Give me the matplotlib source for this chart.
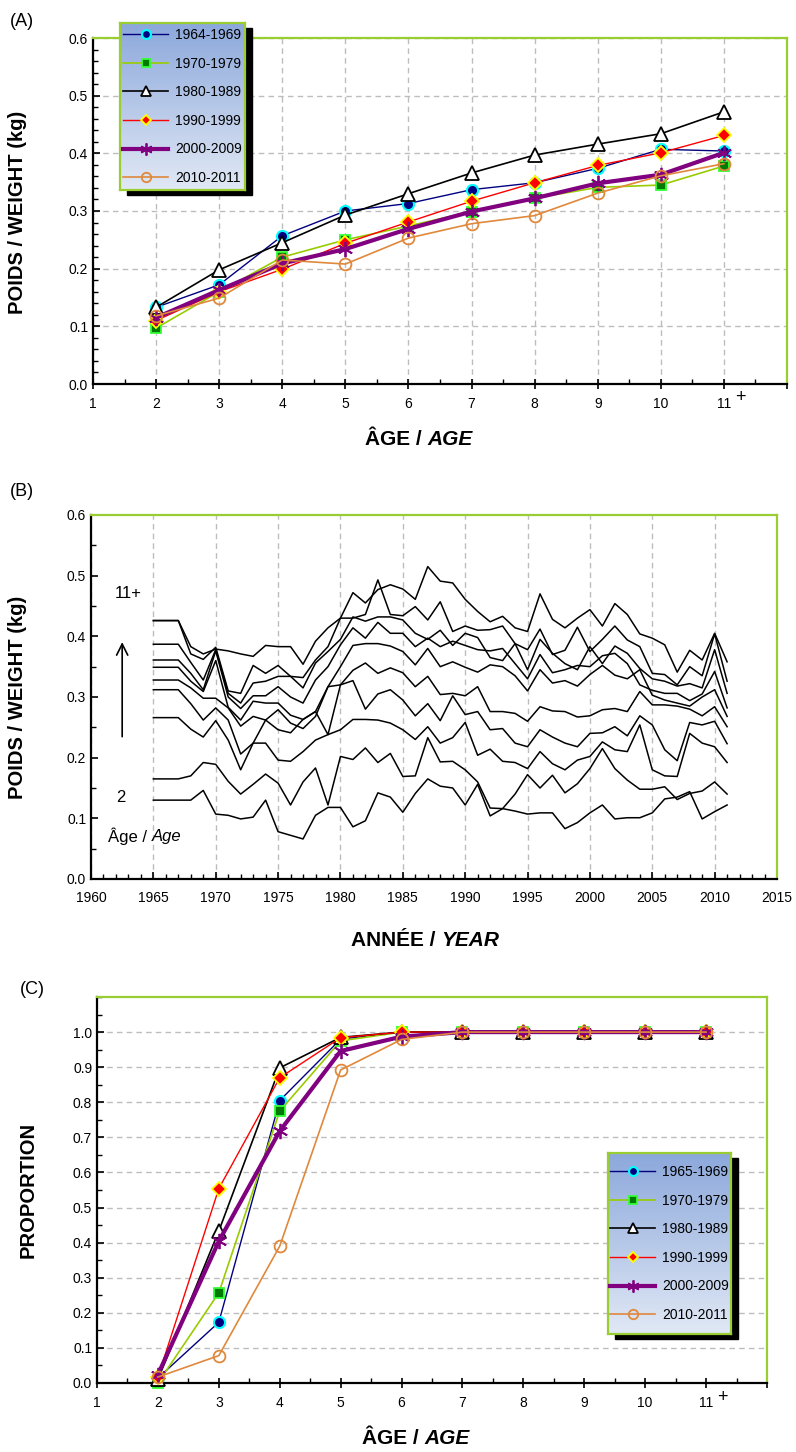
import numpy as np
import matplotlib
matplotlib.use("Agg")
import matplotlib.pyplot as plt
from matplotlib import font_manager
from matplotlib.patches import Rectangle
from matplotlib.ticker import MultipleLocator, FormatStrFormatter

names = {f.name for f in font_manager.fontManager.ttflist}
base_font = 'Liberation Sans Narrow' if 'Liberation Sans Narrow' in names else 'Liberation Sans'
plt.rcParams['font.family'] = [base_font, 'DejaVu Sans']

W, H = 796, 1452

# ---------------- data ----------------
ages = [2, 3, 4, 5, 6, 7, 8, 9, 10, 11]

# (A) weight at age by period
wt_1964_69 = [0.133, 0.172, 0.257, 0.300, 0.313, 0.337, 0.349, 0.374, 0.407, 0.404]
wt_1970_79 = [0.097, 0.160, 0.220, 0.250, 0.274, 0.299, 0.322, 0.341, 0.345, 0.378]
wt_1980_89 = [0.133, 0.198, 0.245, 0.293, 0.330, 0.366, 0.397, 0.416, 0.434, 0.472]
wt_1990_99 = [0.110, 0.160, 0.199, 0.244, 0.281, 0.317, 0.349, 0.379, 0.401, 0.431]
wt_2000_09 = [0.115, 0.163, 0.209, 0.234, 0.269, 0.299, 0.322, 0.348, 0.363, 0.401]
wt_2010_11 = [0.118, 0.149, 0.215, 0.208, 0.253, 0.278, 0.292, 0.331, 0.361, 0.382]
labels_a = ['1964-1969', '1970-1979', '1980-1989', '1990-1999', '2000-2009', '2010-2011']

# (B) weight at age by year, 1965-2011
years = list(range(1965, 2012))
w_age2 = [.130, .130, .130, .130, .146, .107, .105, .099, .102, .130, .078, .072, .066, .105, .118, .118,
          .086, .096, .142, .135, .110, .141, .165, .153, .150, .122, .156, .104, .116, .112, .107, .109,
          .109, .083, .093, .109, .122, .099, .101, .101, .109, .132, .135, .144, .099, .111, .122]
w_age3 = [.165, .165, .165, .170, .192, .189, .161, .140, .156, .173, .158, .122, .160, .183, .122, .202,
          .197, .216, .192, .207, .169, .170, .233, .193, .194, .180, .160, .117, .116, .140, .172, .150,
          .171, .142, .157, .182, .215, .182, .163, .148, .148, .152, .131, .141, .145, .160, .140]
w_age4 = [.266, .266, .266, .247, .234, .261, .229, .180, .224, .224, .196, .194, .210, .229, .238, .246,
          .263, .263, .262, .257, .246, .230, .251, .224, .233, .258, .204, .214, .194, .192, .182, .210,
          .190, .180, .196, .202, .226, .213, .210, .254, .180, .170, .169, .240, .224, .218, .192]
w_age5 = [.312, .312, .312, .289, .262, .282, .262, .206, .224, .262, .246, .241, .263, .276, .238, .320,
          .327, .280, .305, .312, .295, .269, .289, .261, .302, .271, .276, .246, .248, .224, .218, .246,
          .234, .224, .218, .240, .241, .251, .236, .269, .254, .213, .195, .258, .254, .260, .223]
w_age6 = [.328, .328, .328, .315, .298, .298, .282, .252, .268, .262, .279, .257, .248, .268, .317, .320,
          .344, .356, .339, .348, .340, .317, .334, .304, .306, .302, .317, .276, .276, .273, .260, .284,
          .277, .276, .267, .269, .279, .281, .276, .309, .287, .287, .285, .280, .269, .284, .251]
w_age7 = [.349, .349, .349, .326, .309, .360, .283, .262, .293, .290, .290, .270, .263, .276, .317, .350,
          .385, .388, .388, .384, .375, .353, .380, .350, .358, .349, .341, .353, .350, .335, .310, .345,
          .323, .327, .318, .337, .352, .336, .330, .345, .303, .295, .290, .285, .300, .312, .268]
w_age8 = [.361, .361, .361, .339, .312, .376, .300, .281, .302, .302, .317, .300, .290, .328, .350, .386,
          .414, .397, .423, .405, .405, .383, .397, .383, .392, .385, .378, .376, .380, .355, .330, .370,
          .340, .345, .352, .350, .368, .372, .355, .320, .311, .306, .306, .294, .305, .342, .282]
w_age9 = [.387, .387, .387, .357, .328, .378, .306, .290, .323, .326, .334, .334, .315, .356, .375, .395,
          .432, .425, .432, .432, .427, .405, .395, .410, .385, .405, .398, .365, .360, .388, .345, .395,
          .372, .355, .345, .383, .355, .384, .372, .347, .330, .326, .318, .322, .315, .378, .306]
w_age10 = [.426, .426, .426, .371, .362, .382, .310, .306, .352, .339, .352, .334, .332, .361, .383, .430,
           .430, .436, .493, .436, .434, .449, .427, .457, .408, .417, .410, .411, .417, .388, .378, .412,
           .370, .377, .415, .375, .395, .417, .394, .383, .339, .337, .320, .350, .335, .404, .326]
w_age11 = [.426, .426, .426, .383, .371, .379, .376, .371, .367, .385, .383, .383, .354, .392, .414, .430,
           .472, .455, .477, .485, .478, .461, .515, .491, .488, .461, .441, .424, .433, .414, .408, .470,
           .428, .414, .430, .444, .417, .454, .436, .404, .397, .386, .341, .377, .361, .405, .358]

# (C) proportion mature at age by period
pm_1965_69 = [0.014, 0.173, 0.805, 0.980, 1.0, 1.0, 1.0, 1.0, 1.0, 1.0]
pm_1970_79 = [0.000, 0.257, 0.775, 0.975, 1.0, 1.0, 1.0, 1.0, 1.0, 1.0]
pm_1980_89 = [0.010, 0.433, 0.898, 0.985, 1.0, 1.0, 1.0, 1.0, 1.0, 1.0]
pm_1990_99 = [0.017, 0.554, 0.870, 0.984, 1.0, 1.0, 1.0, 1.0, 1.0, 1.0]
pm_2000_09 = [0.024, 0.404, 0.718, 0.946, 0.987, 1.0, 1.0, 1.0, 1.0, 1.0]
pm_2010_11 = [0.017, 0.078, 0.390, 0.892, 0.979, 1.0, 1.0, 1.0, 1.0, 1.0]
labels_c = ['1965-1969', '1970-1979', '1980-1989', '1990-1999', '2000-2009', '2010-2011']

# ---------------- styles ----------------
GREEN = '#9ACD32'
GRID = '#BDBDBD'
styles = [
    dict(color='#000080', lw=1.0, marker='o', ms=8, mfc='#000080', mec='#00FFFF', mew=1.5),
    dict(color='#99CC00', lw=1.2, marker='s', ms=7.5, mfc='#007A00', mec='#33FF33', mew=1.3),
    dict(color='black', lw=1.2, marker='^', ms=9.5, mfc='white', mec='black', mew=1.3),
    dict(color='red', lw=1.0, marker='D', ms=7, mfc='red', mec='yellow', mew=1.3),
    dict(color='#800080', lw=3.0, marker=(6, 2, 0), ms=11, mfc='#800080', mec='#800080', mew=1.3),
    dict(color='#E0883C', lw=1.2, marker='o', ms=8.5, mfc='none', mec='#E0883C', mew=1.3),
]


def px_box(l, t, r, b):
    return [l / W, 1 - b / H, (r - l) / W, (b - t) / H]


def frame(ax):
    for s in ['left', 'bottom']:
        ax.spines[s].set_color('black')
        ax.spines[s].set_linewidth(1.6)
    for s in ['top', 'right']:
        ax.spines[s].set_color(GREEN)
        ax.spines[s].set_linewidth(1.6)
    ax.tick_params(which='major', direction='inout', length=7, width=1.2, labelsize=10)
    ax.tick_params(which='minor', direction='in', length=3.5, width=1.0)
    ax.tick_params(axis='y', which='major', direction='in', length=5)
    ax.tick_params(axis='x', which='major', pad=6)


def legend_box(fig, ax, l, t, r, b, labels):
    shadow = Rectangle(((l + 7) / W, 1 - (b + 5) / H), (r - l) / W, (b - t) / H,
                       transform=fig.transFigure, color='black', zorder=1)
    fig.patches.append(shadow)
    lax = fig.add_axes(px_box(l, t, r, b))
    lax.set_zorder(5)
    grad = np.linspace(0, 1, 64)[:, None]
    top = np.array([0.55, 0.66, 0.86])
    bot = np.array([0.88, 0.91, 0.96])
    img = top[None, None, :] * (1 - grad[:, :, None]) + bot[None, None, :] * grad[:, :, None]
    lax.imshow(img, aspect='auto', extent=[0, 1, 0, 1])
    lax.set_xticks([])
    lax.set_yticks([])
    for s in lax.spines.values():
        s.set_color(GREEN)
        s.set_linewidth(1.6)
    handles = ax.get_lines()[:6]
    lax.legend(handles, labels, loc='center', frameon=False, fontsize=10,
               handlelength=3.2, handletextpad=0.5, labelspacing=1.05, markerscale=0.8)


fig = plt.figure(figsize=(W / 100, H / 100), dpi=100)

# ---------------- (A) ----------------
axA = fig.add_axes(px_box(93, 38, 787, 384))
for vals, st in zip([wt_1964_69, wt_1970_79, wt_1980_89, wt_1990_99, wt_2000_09, wt_2010_11], styles):
    axA.plot(ages, vals, zorder=3, **st)
axA.set_xlim(1, 12)
axA.set_ylim(0, 0.6)
axA.set_xticks(range(1, 13))
axA.set_xticklabels([str(i) for i in range(1, 12)] + [''])
axA.xaxis.set_minor_locator(MultipleLocator(0.5))
axA.yaxis.set_major_locator(MultipleLocator(0.1))
axA.yaxis.set_minor_locator(MultipleLocator(0.02))
axA.yaxis.set_major_formatter(FormatStrFormatter('%.1f'))
axA.grid(True, which='major', color=GRID, ls=(0, (4, 3)), lw=1.0)
axA.set_axisbelow(True)
frame(axA)
legend_box(fig, axA, 120, 23, 245, 190, labels_a)

# ---------------- (B) ----------------
axB = fig.add_axes(px_box(91, 515, 777, 879))
for vals in [w_age2, w_age3, w_age4, w_age5, w_age6, w_age7, w_age8, w_age9, w_age10, w_age11]:
    axB.plot(years, vals, color='black', lw=1.1)
axB.set_xlim(1960, 2015)
axB.set_ylim(0, 0.6)
axB.xaxis.set_major_locator(MultipleLocator(5))
axB.xaxis.set_minor_locator(MultipleLocator(1))
axB.yaxis.set_major_locator(MultipleLocator(0.1))
axB.yaxis.set_minor_locator(MultipleLocator(0.05))
axB.yaxis.set_major_formatter(FormatStrFormatter('%.1f'))
axB.grid(True, axis='x', which='major', color=GRID, ls=(0, (4, 3)), lw=1.0)
axB.set_axisbelow(True)
frame(axB)
axB.tick_params(axis='x', which='major', direction='in', length=5, pad=9)

axB.text(1963.0, 0.47, '11+', fontsize=12, ha='center', va='center')
axB.annotate('', xy=(1962.5, 0.395), xytext=(1962.5, 0.23),
             arrowprops=dict(arrowstyle='->', color='black', lw=1.2, mutation_scale=20))
axB.text(1962.4, 0.135, '2', fontsize=12, ha='center', va='center')
axB.text(1964.9, 0.070, 'Âge / ', fontsize=12, ha='right', va='center')
axB.text(1964.9, 0.070, 'Age', fontsize=12, ha='left', va='center', style='italic')

# ---------------- (C) ----------------
axC = fig.add_axes(px_box(97, 997, 767, 1383))
for vals, st in zip([pm_1965_69, pm_1970_79, pm_1980_89, pm_1990_99, pm_2000_09, pm_2010_11], styles):
    axC.plot(ages, vals, zorder=3, clip_on=False, **st)
axC.set_xlim(1, 12)
axC.set_ylim(0, 1.1)
axC.set_xticks(range(1, 13))
axC.set_xticklabels([str(i) for i in range(1, 12)] + [''])
axC.xaxis.set_minor_locator(MultipleLocator(0.5))
axC.set_yticks(np.arange(0, 1.01, 0.1))
axC.yaxis.set_minor_locator(MultipleLocator(0.05))
axC.yaxis.set_major_formatter(FormatStrFormatter('%.1f'))
axC.grid(True, axis='y', which='major', color=GRID, ls=(0, (4, 3)), lw=1.0)
axC.set_axisbelow(True)
frame(axC)
legend_box(fig, axC, 608, 1153, 731, 1334, labels_c)

# ---------------- texts ----------------
def ftext(x, y, s, **kw):
    fig.text(x / W, 1 - y / H, s, **kw)

ftext(10, 22, '(A)', fontsize=13, va='center')
ftext(10, 492, '(B)', fontsize=13, va='center')
ftext(20, 990, '(C)', fontsize=13, va='center')

ftext(18, 212, 'POIDS / WEIGHT (kg)', fontsize=14.5, rotation=90, ha='center', va='center', weight='bold')
ftext(18, 697, 'POIDS / WEIGHT (kg)', fontsize=14.5, rotation=90, ha='center', va='center', weight='bold')
ftext(28, 1190, 'PROPORTION', fontsize=14.5, rotation=90, ha='center', va='center', weight='bold')

ftext(427, 440, 'ÂGE / ', fontsize=15, ha='right', va='center', weight='bold')
ftext(427, 440, 'AGE', fontsize=15, ha='left', va='center', weight='bold', style='italic')
ftext(441, 940, 'ANNÉE / ', fontsize=15, ha='right', va='center', weight='bold')
ftext(441, 940, 'YEAR', fontsize=15, ha='left', va='center', weight='bold', style='italic')
ftext(424, 1438, 'ÂGE / ', fontsize=15, ha='right', va='center', weight='bold')
ftext(424, 1438, 'AGE', fontsize=15, ha='left', va='center', weight='bold', style='italic')

ftext(740, 397, '+', fontsize=13, ha='center', va='center')
ftext(722, 1397, '+', fontsize=13, ha='center', va='center')

fig.savefig('out.png', dpi=100)
